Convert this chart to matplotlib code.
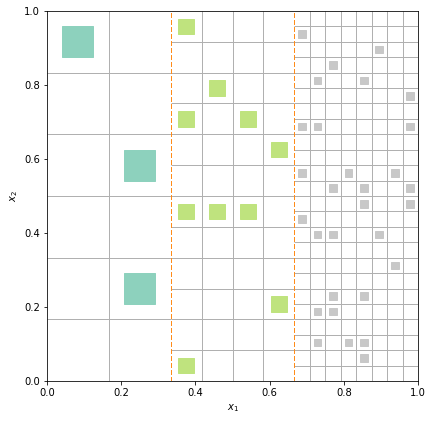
import matplotlib
matplotlib.use("Agg")
import matplotlib.pyplot as plt
from matplotlib.patches import Rectangle

# three refinement levels: (x offset, cell size)
level_offsets = [0.0, 1 / 3, 2 / 3]
level_cells = [1 / 6, 1 / 12, 1 / 24]
level_colors = ['#8DD1BD', '#BFE37E', '#C8C8C8']

# occupied cells per level as (column, row)
coarse_cells = [(0, 5), (1, 3), (1, 1)]
mid_cells = [(0, 11), (1, 9), (0, 8), (2, 8), (3, 7),
             (0, 5), (1, 5), (2, 5), (3, 2), (0, 0)]
fine_cells = [(0, 22), (5, 21), (2, 20), (1, 19), (4, 19), (7, 18),
              (0, 16), (1, 16), (7, 16),
              (0, 13), (3, 13), (6, 13),
              (2, 12), (4, 12), (7, 12),
              (4, 11), (7, 11), (0, 10),
              (1, 9), (2, 9), (5, 9), (6, 7),
              (2, 5), (4, 5), (1, 4), (2, 4),
              (1, 2), (3, 2), (4, 2), (4, 1)]
all_cells = [coarse_cells, mid_cells, fine_cells]

fig = plt.figure(figsize=(433 / 72, 423 / 72), dpi=72)
ax = fig.add_axes([47 / 433, 1 - 381 / 423, 371 / 433, 370 / 423])

# cell grid of each level
grid_kw = dict(color='#b0b0b0', lw=1.0, zorder=1)
for off, cell in zip(level_offsets, level_cells):
    n = int(round(1 / cell))
    ncol = int(round((1 / 3) / cell))
    ax.hlines([k * cell for k in range(1, n)], off, off + 1 / 3, **grid_kw)
    ax.vlines([off + k * cell for k in range(1, ncol)], 0, 1, **grid_kw)

# one square in the middle of each occupied cell
for off, cell, color, cells in zip(level_offsets, level_cells, level_colors, all_cells):
    s = cell / 2
    for i, j in cells:
        cx = off + (i + 0.5) * cell
        cy = (j + 0.5) * cell
        ax.add_patch(Rectangle((cx - s / 2, cy - s / 2), s, s, facecolor=color,
                               edgecolor=color, lw=1.0, zorder=3))

# level boundaries
for xb in level_offsets[1:]:
    ax.axvline(xb, color='#ff8c1a', ls='--', lw=1.0, zorder=2,
               antialiased=False, dashes=(4.5, 2))

ax.set_xlim(0, 1)
ax.set_ylim(0, 1)
ax.set_xlabel('$x_1$')
ax.set_ylabel('$x_2$')

plt.savefig('out.png', dpi=72)
